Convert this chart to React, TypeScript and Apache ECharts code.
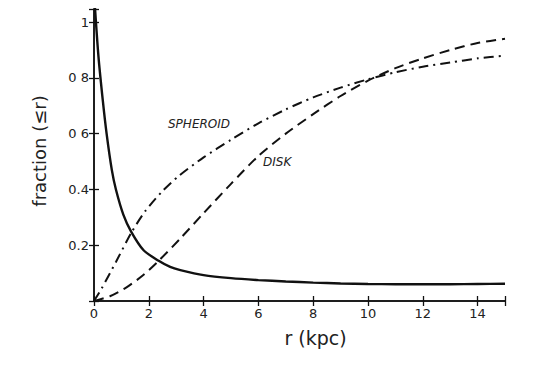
import React, { useEffect, useRef } from "react";
import * as echarts from "echarts";

const haloR = [0.03, 0.16, 0.32, 0.46, 0.65, 0.8, 1.07, 1.36, 1.81, 2.36, 2.78, 3.15, 4, 5, 6, 7, 8, 9, 10, 11, 12, 13, 14, 15];
const haloFrac = [1.06, 0.88, 0.72, 0.6, 0.47, 0.4, 0.31, 0.248, 0.182, 0.144, 0.122, 0.111, 0.093, 0.082, 0.075, 0.07, 0.066, 0.063, 0.061, 0.06, 0.06, 0.06, 0.061, 0.062];

const spheroidR = [0, 0.28, 0.8, 1.38, 1.87, 2.48, 3.09, 4, 5, 6, 7, 8, 9, 10, 11, 12, 13, 14, 15];
const spheroidFrac = [0, 0.045, 0.14, 0.248, 0.322, 0.392, 0.448, 0.515, 0.578, 0.637, 0.687, 0.73, 0.765, 0.795, 0.82, 0.84, 0.855, 0.87, 0.88];

const diskR = [0, 0.6, 1.2, 1.8, 2.36, 3.15, 4, 5, 6, 7, 8, 9, 10, 11, 12, 13, 14, 15];
const diskFrac = [0, 0.018, 0.05, 0.093, 0.144, 0.224, 0.315, 0.42, 0.52, 0.6, 0.67, 0.735, 0.79, 0.835, 0.87, 0.9, 0.925, 0.94];

const yTickLabels: Record<string, string> = { "0.2": "0.2", "0.4": "0.4", "0.6": "0 6", "0.8": "0 8", "1": "1" };
const xTickLabels = ["0", "2", "4", "6", "8", "10", "12", "14"];

const FONT = "DejaVu Sans";
const INK = "#111";

function pairs(xs: number[], ys: number[]) {
  return xs.map((x, i) => [x, ys[i]]);
}

export default function App() {
  const ref = useRef<HTMLDivElement>(null);
  useEffect(() => {
    if (!ref.current) return;
    const chart = echarts.init(ref.current, null, { renderer: "svg" });
    const yFmt = (v: number) => {
      const k = String(Math.round(v * 10) / 10);
      return Math.abs(v * 10 - Math.round(v * 10)) < 1e-6 ? yTickLabels[k] || "" : "";
    };
    const xFmt = (v: number) => {
      const s = String(Math.round(v));
      return Math.abs(v - Math.round(v)) < 1e-6 && xTickLabels.includes(s) ? s : "";
    };
    const axisLine = { show: true, lineStyle: { color: INK, width: 1.5 } };
    const axisTick = { show: true, inside: true, length: 5, lineStyle: { color: INK, width: 1.3 } };
    const lineCommon = { type: "line", showSymbol: false, clip: true };
    chart.setOption({
      animation: false,
      backgroundColor: "#fff",
      grid: { left: 94, right: 55, top: 9, bottom: 65, show: false },
      xAxis: [
        {
          type: "value",
          min: 0,
          max: 15,
          interval: 2,
          position: "bottom",
          axisLine,
          axisTick,
          splitLine: { show: false },
          axisLabel: { formatter: xFmt, color: "#222", fontFamily: FONT, fontSize: 13, margin: 6 },
          name: "r (kpc)",
          nameLocation: "middle",
          nameGap: 27,
          nameTextStyle: { color: "#222", fontFamily: FONT, fontSize: 19, padding: [0, 0, 0, 32] },
        },
        {
          type: "value",
          min: 0,
          max: 15,
          interval: 2,
          position: "top",
          axisLine,
          axisTick,
          splitLine: { show: false },
          axisLabel: { show: false },
        },
      ],
      yAxis: [
        {
          type: "value",
          min: 0,
          max: 1.047,
          interval: 0.2,
          position: "left",
          axisLine,
          axisTick,
          splitLine: { show: false },
          axisLabel: { formatter: yFmt, color: "#222", fontFamily: FONT, fontSize: 13, margin: 5 },
          name: "fraction (\u2264r)",
          nameLocation: "middle",
          nameGap: 46,
          nameRotate: 90,
          nameTextStyle: { color: "#222", fontFamily: FONT, fontSize: 18, padding: [0, 0, 0, 8] },
        },
        {
          type: "value",
          min: 0,
          max: 1.047,
          interval: 0.2,
          position: "right",
          axisLine,
          axisTick,
          splitLine: { show: false },
          axisLabel: { show: false },
        },
      ],
      series: [
        {
          ...lineCommon,
          name: "halo",
          data: pairs(haloR, haloFrac),
          smooth: 0.25,
          lineStyle: { color: INK, width: 2.4, type: "solid" },
        },
        {
          ...lineCommon,
          name: "SPHEROID",
          data: pairs(spheroidR, spheroidFrac),
          smooth: 0.25,
          lineStyle: { color: INK, width: 2, type: [10, 5, 2, 5] },
        },
        {
          ...lineCommon,
          name: "DISK",
          data: pairs(diskR, diskFrac),
          smooth: 0.25,
          lineStyle: { color: INK, width: 2, type: [10, 6] },
        },
      ],
      graphic: [
        {
          type: "text",
          left: 168,
          top: 118,
          style: { text: "SPHEROID", fontFamily: FONT, fontStyle: "italic", fontSize: 12, fill: "#222" },
        },
        {
          type: "text",
          left: 263,
          top: 156,
          style: { text: "DISK", fontFamily: FONT, fontStyle: "italic", fontSize: 12, fill: "#222" },
        },
      ],
    });
    return () => chart.dispose();
  }, []);
  return <div ref={ref} style={{ width: 560, height: 366, margin: -8 }} />;
}
